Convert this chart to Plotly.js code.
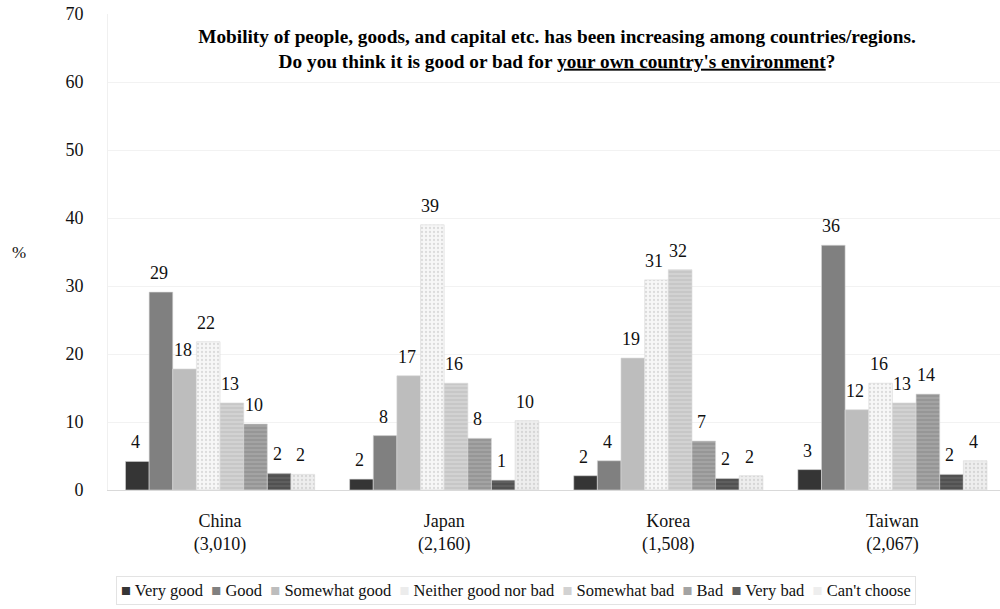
<!DOCTYPE html>
<html>
<head>
<meta charset="utf-8">
<script src="https://cdn.plot.ly/plotly-3.0.1.min.js"></script>
<style>html,body{margin:0;padding:0;background:#fff;}#chart{width:1000px;height:609px;}</style>
</head>
<body>
<div id="chart"></div>
<script>
// Categories (countries with sample sizes)
var countries = ["China", "Japan", "Korea", "Taiwan"];
var sampleSizes = ["(3,010)", "(2,160)", "(1,508)", "(2,067)"];

// Series names
var seriesNames = ["Very good", "Good", "Somewhat good", "Neither good nor bad", "Somewhat bad", "Bad", "Very bad", "Can't choose"];

// Series values (%), in country order
var veryGood     = [4.2, 1.6, 2.1, 3.0];
var good         = [29.1, 8.0, 4.3, 36.0];
var somewhatGood = [17.8, 16.8, 19.4, 11.8];
var neither      = [21.8, 39.0, 30.9, 15.7];
var somewhatBad  = [12.8, 15.7, 32.4, 12.8];
var bad          = [9.7, 7.6, 7.2, 14.1];
var veryBad      = [2.45, 1.45, 1.7, 2.3];
var cantChoose   = [2.3, 10.2, 2.1, 4.3];

// Y tick values
var yTicks = [0, 10, 20, 30, 40, 50, 60, 70];

var seriesValues = [veryGood, good, somewhatGood, neither, somewhatBad, bad, veryBad, cantChoose];
var colors = ["#353535", "#808080", "#bdbdbd", "#f7f7f7", "#d2d2d2", "#a3a3a3", "#5e5e5e", "#eeeeee"];
var patterns = ["", "", "", ".", "-", "-", "-", "."];
var patternFg = ["#353535", "#808080", "#bdbdbd", "#dcdcdc", "#bcbcbc", "#8a8a8a", "#444444", "#d6d6d6"];

var FONT = "Liberation Serif";
var tickText = countries.map(function (c, i) { return c + "<br>" + sampleSizes[i]; });

var bargap = 0.156;
var nS = seriesNames.length;
var w = (1 - bargap) / nS;

var traces = seriesNames.map(function (name, i) {
  var m = {
    color: colors[i],
    line: { color: "#d9d9d9", width: 0.6 }
  };
  if (patterns[i]) {
    m.pattern = { shape: patterns[i], fgcolor: patternFg[i], bgcolor: colors[i], size: 4, solidity: 0.25 };
  }
  return {
    type: "bar",
    name: name,
    x: countries,
    y: seriesValues[i],
    marker: m,
    hoverinfo: "x+y+name"
  };
});

var annotations = [];
seriesValues.forEach(function (vals, i) {
  vals.forEach(function (v, c) {
    annotations.push({
      xref: "x", yref: "y",
      x: c - (1 - bargap) / 2 + w * (i + 0.5),
      y: v,
      text: String(Math.round(v)),
      showarrow: false,
      yanchor: "bottom",
      yshift: 7,
      xshift: -2,
      font: { family: FONT, size: 18, color: "#111" }
    });
  });
});

// "%" axis label
annotations.push({
  xref: "paper", yref: "paper", x: -0.1, y: 0.5, xanchor: "center", yanchor: "middle",
  text: "%", showarrow: false, font: { family: FONT, size: 17, color: "#111" }
});

// Legend built as a single text line
var legendText = seriesNames.map(function (n, i) {
  var c = colors[i] === "#f7f7f7" ? "#ececec" : colors[i];
  return "<span style='color:" + c + "'>■</span> " + n;
}).join("  ");
annotations.push({
  xref: "paper", yref: "paper", x: 0.457, y: -0.18, xanchor: "center", yanchor: "top",
  text: legendText, showarrow: false,
  font: { family: FONT, size: 16.5, color: "#111" },
  bordercolor: "#e3e3e3", borderwidth: 1, borderpad: 4, bgcolor: "#fff"
});

var layout = {
  width: 1000, height: 609,
  margin: { l: 108, r: 0, t: 14, b: 119 },
  paper_bgcolor: "#fff", plot_bgcolor: "#fff",
  barmode: "group",
  bargap: bargap,
  bargroupgap: 0,
  showlegend: false,
  font: { family: FONT, size: 17, color: "#111" },
  title: {
    text: "<b>Mobility of people, goods, and capital etc. has been increasing among countries/regions.<br>Do you think it is good or bad for <u>your own country's environment</u>?</b>",
    font: { family: FONT, size: 19.3, color: "#000" },
    x: 0.557, xanchor: "center", xref: "container",
    yref: "container", y: 0.93, yanchor: "top"
  },
  xaxis: {
    type: "category",
    tickvals: countries,
    ticktext: tickText,
    range: [-0.5, 3.48],
    showline: true, linecolor: "#d9d9d9", linewidth: 1,
    showgrid: false, ticks: "",
    ticklabelstandoff: 14,
    tickfont: { family: FONT, size: 18, color: "#111" }
  },
  yaxis: {
    range: [0, 70],
    tickvals: yTicks,
    showline: true, linecolor: "#f0f0f0", linewidth: 1,
    showgrid: true, gridcolor: "#f2f2f2", gridwidth: 1,
    zeroline: false,
    ticks: "",
    ticklabelstandoff: 20,
    tickfont: { family: FONT, size: 18, color: "#111" }
  },
  annotations: annotations
};

Plotly.newPlot("chart", traces, layout, { displayModeBar: false, staticPlot: true });
</script>
</body>
</html>
